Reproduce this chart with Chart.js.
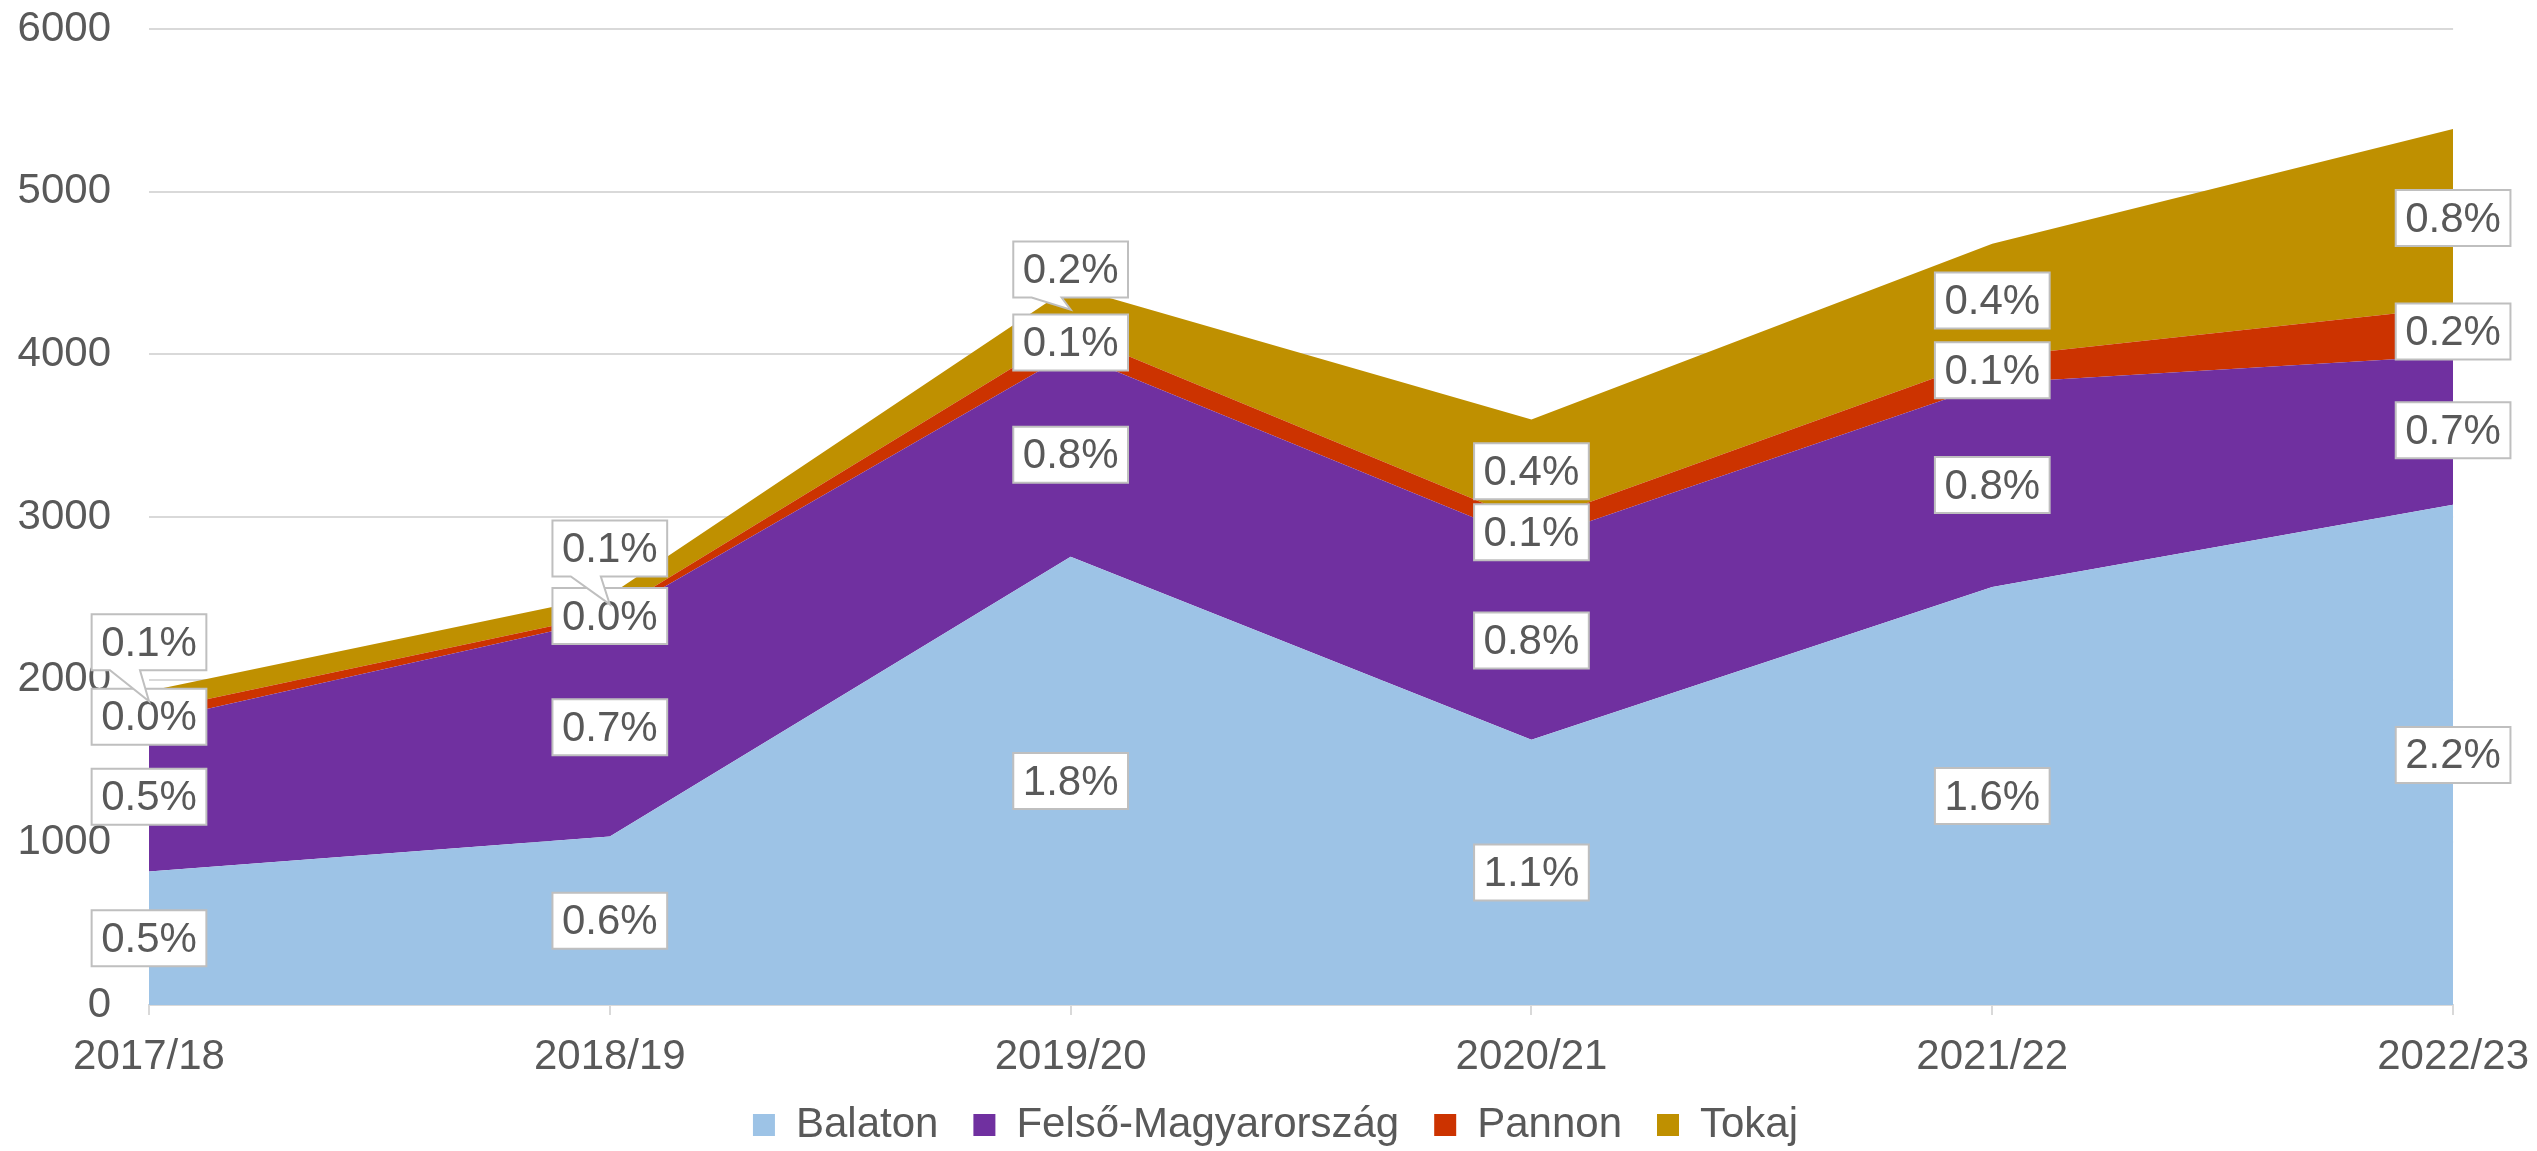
<!DOCTYPE html>
<html lang="hu">
<head>
<meta charset="utf-8">
<title>Borrégiók</title>
<script src="https://cdn.jsdelivr.net/npm/chart.js@4.4.1/dist/chart.umd.min.js"></script>
<style>
    html, body { margin: 0; padding: 0; background: #ffffff; }
    #wrap { position: relative; width: 2537px; height: 1151px; }
</style>
</head>
<body>
<div id="wrap"><canvas id="chartBor"></canvas></div>
<script>
// Adatok
const categories = ['2017/18', '2018/19', '2019/20', '2020/21', '2021/22', '2022/23'];
const balaton = [820, 1036, 2755, 1630, 2570, 3075];
const felso = [920, 1342, 1255, 1221, 1252, 917];
const pannon = [64, 27, 125, 112, 160, 298];
const tokaj = [126, 115, 280, 637, 698, 1096];

// Százalékos címkék
const balatonPct = ['0.5%', '0.6%', '1.8%', '1.1%', '1.6%', '2.2%'];
const felsoPct = ['0.5%', '0.7%', '0.8%', '0.8%', '0.8%', '0.7%'];
const pannonPct = ['0.0%', '0.0%', '0.1%', '0.1%', '0.1%', '0.2%'];
const tokajPct = ['0.1%', '0.1%', '0.2%', '0.4%', '0.4%', '0.8%'];

// Tengely
const yMin = 0;
const yMax = 6000;
const yStep = 1000;

// Színek
const colors = {
    balaton: '#9DC3E6',
    felso: '#7030A0',
    pannon: '#CC3300',
    tokaj: '#BF9000',
    text: '#595959',
    grid: '#D9D9D9',
    labelBorder: '#BFBFBF'
};

// Felfelé tolt (mutatós) címkék eltolása pixelben, adatsoronként
const calloutLift = { 3: [59, 56, 40, 0, 0, 0] };

Chart.defaults.font.family = "'Liberation Sans', Arial, sans-serif";
Chart.defaults.font.size = 42;
Chart.defaults.color = colors.text;

// Címkék rajzolása dobozban, a terület közepére
const pctLabels = {
    id: 'pctLabels',
    afterDatasetsDraw(chart) {
        const ctx = chart.ctx;
        const xs = chart.scales.x;
        const ys = chart.scales.y;
        ctx.save();
        ctx.font = "42px 'Liberation Sans', Arial, sans-serif";
        ctx.textAlign = 'center';
        ctx.textBaseline = 'middle';
        chart.data.datasets.forEach((ds, d) => {
            ds.data.forEach((v, j) => {
                let below = 0;
                for (let k = 0; k < d; k++) below += chart.data.datasets[k].data[j];
                const cx = xs.getPixelForValue(j);
                const cy = ys.getPixelForValue(below + v / 2);
                const lift = (calloutLift[d] || [])[j] || 0;
                const by = cy - lift;
                const text = ds.pct[j];
                const w = ctx.measureText(text).width + 19;
                const h = 56;
                const left = cx - w / 2, right = cx + w / 2;
                const top = by - h / 2, bottom = by + h / 2;
                ctx.beginPath();
                ctx.moveTo(left, top);
                ctx.lineTo(right, top);
                ctx.lineTo(right, bottom);
                if (lift) {
                    ctx.lineTo(cx - 9, bottom);
                    ctx.lineTo(cx, cy);
                    ctx.lineTo(cx - 39, bottom);
                }
                ctx.lineTo(left, bottom);
                ctx.closePath();
                ctx.fillStyle = '#ffffff';
                ctx.fill();
                ctx.strokeStyle = colors.labelBorder;
                ctx.lineWidth = 2;
                ctx.stroke();
                ctx.fillStyle = colors.text;
                ctx.fillText(text, cx, by + 2);
            });
        });
        ctx.restore();
    }
};

function areaSet(label, data, pct, color, first) {
    return {
        label: label,
        data: data,
        pct: pct,
        backgroundColor: color,
        borderColor: color,
        borderWidth: 0,
        pointRadius: 0,
        pointHoverRadius: 0,
        tension: 0,
        fill: first ? 'origin' : '-1'
    };
}

document.addEventListener('DOMContentLoaded', function () {
    const ctxBor = document.getElementById('chartBor');
    new Chart(ctxBor, {
        type: 'line',
        data: {
            labels: categories,
            datasets: [
                areaSet('Balaton', balaton, balatonPct, colors.balaton, true),
                areaSet('Felső-Magyarország', felso, felsoPct, colors.felso, false),
                areaSet('Pannon', pannon, pannonPct, colors.pannon, false),
                areaSet('Tokaj', tokaj, tokajPct, colors.tokaj, false)
            ]
        },
        options: {
            responsive: true,
            maintainAspectRatio: false,
            animation: false,
            events: [],
            layout: {
                padding: { top: 29, right: 0, bottom: -5, left: 14 }
            },
            scales: {
                x: {
                    offset: false,
                    afterFit: function (scale) { scale.height = 64; },
                    grid: {
                        display: true,
                        drawOnChartArea: false,
                        drawTicks: true,
                        tickLength: 10,
                        color: colors.grid,
                        lineWidth: 2
                    },
                    border: { display: true, color: colors.grid, width: 2 },
                    ticks: {
                        color: colors.text,
                        font: { size: 42, lineHeight: 1.619 },
                        padding: 8,
                        maxRotation: 0,
                        autoSkip: false
                    }
                },
                y: {
                    stacked: true,
                    min: yMin,
                    max: yMax,
                    afterFit: function (scale) { scale.width = 135; },
                    grid: {
                        color: colors.grid,
                        lineWidth: 2,
                        drawTicks: true,
                        tickLength: 38,
                        tickColor: 'rgba(0,0,0,0)'
                    },
                    border: { display: false },
                    ticks: {
                        stepSize: yStep,
                        color: colors.text,
                        font: { size: 42 },
                        padding: 0,
                        callback: function (value) { return String(value); }
                    }
                }
            },
            plugins: {
                legend: {
                    position: 'bottom',
                    labels: {
                        boxWidth: 22,
                        boxHeight: 22,
                        padding: 35,
                        color: colors.text,
                        font: { size: 42 }
                    }
                },
                tooltip: { enabled: false }
            }
        },
        plugins: [pctLabels]
    });
});
</script>
</body>
</html>
